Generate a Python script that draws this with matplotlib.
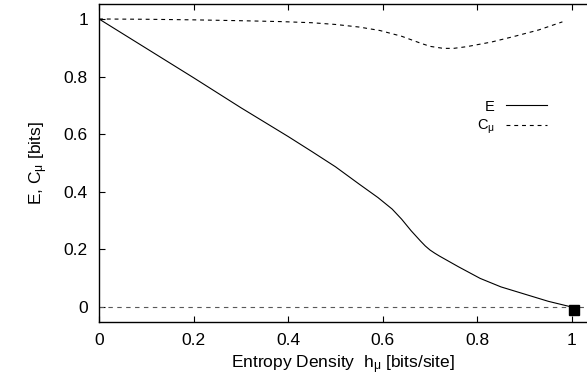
import numpy as np
import matplotlib.pyplot as plt

plt.rcParams['font.family'] = 'Liberation Sans'
plt.rcParams['mathtext.fontset'] = 'custom'
plt.rcParams['mathtext.rm'] = 'Liberation Sans'
plt.rcParams['mathtext.it'] = 'Liberation Sans'

# excess entropy E vs entropy density
h_E = [0.0, 0.1, 0.2, 0.3, 0.4, 0.45, 0.5, 0.55, 0.59, 0.62, 0.64, 0.66,
       0.68, 0.69, 0.70, 0.71, 0.72, 0.76, 0.806, 0.85, 0.9, 0.95, 1.0]
E = [1.0, 0.898, 0.796, 0.692, 0.592, 0.54, 0.487, 0.427, 0.38, 0.34, 0.305,
     0.265, 0.229, 0.212, 0.198, 0.187, 0.177, 0.14, 0.0995, 0.07, 0.045,
     0.02, 0.0]

# statistical complexity C_mu
h_C = [0.0, 0.1, 0.2, 0.3, 0.383, 0.45, 0.5, 0.55, 0.594, 0.64, 0.68, 0.7,
       0.728, 0.75, 0.778, 0.83, 0.877, 0.93, 0.98]
C = [1.0, 0.999, 0.997, 0.994, 0.991, 0.987, 0.981, 0.972, 0.96, 0.94, 0.916,
     0.905, 0.898, 0.898, 0.904, 0.92, 0.939, 0.962, 0.99]

# fair coin point and zero line
h_end = [1.004]
C_end = [-0.01]
zero_x = [0.0, 1.032]
zero_y = [0.0, 0.0]

fig = plt.figure(figsize=(5.87, 3.90), dpi=100)
ax = fig.add_axes([0.1687, 0.175, 0.8313, 0.814])

ax.plot(zero_x, zero_y, color='0.35', lw=0.8, dashes=(4, 4))
ax.plot(h_E, E, color='black', lw=0.8, label='E')
ax.plot(h_C, C, color='black', lw=0.8, dashes=(3.5, 3.5),
        label=r'C$_{\mathrm{\mu}}$')
ax.plot(h_end, C_end, 's', color='black', ms=7.5)

ax.set_xlim(0, 1.032)
ax.set_ylim(-0.051, 1.051)
ax.set_xticks([0, 0.2, 0.4, 0.6, 0.8, 1])
ax.set_xticklabels(['0', '0.2', '0.4', '0.6', '0.8', '1'])
ax.set_yticks([0, 0.2, 0.4, 0.6, 0.8, 1])
ax.set_yticklabels(['0', '0.2', '0.4', '0.6', '0.8', '1'])
ax.tick_params(direction='in', length=4, width=0.8, labelsize=12.5,
               top=True, right=False, pad=8)
ax.spines['right'].set_visible(False)
for s in ['left', 'bottom', 'top']:
    ax.spines[s].set_linewidth(1.0)

ax.set_xlabel(r'Entropy Density  h$_{\mathrm{\mu}}$ [bits/site]', fontsize=12.5,
              labelpad=4)
ax.set_ylabel(r'E, C$_{\mathrm{\mu}}$ [bits]', fontsize=12.5, labelpad=10)

ax.legend(loc='upper right', bbox_to_anchor=(0.918, 0.70), frameon=False,
          markerfirst=False, handlelength=2.8, handletextpad=0.8,
          fontsize=10.5, labelspacing=0.3, borderpad=0, borderaxespad=0)

fig.savefig('out.png', dpi=100)
